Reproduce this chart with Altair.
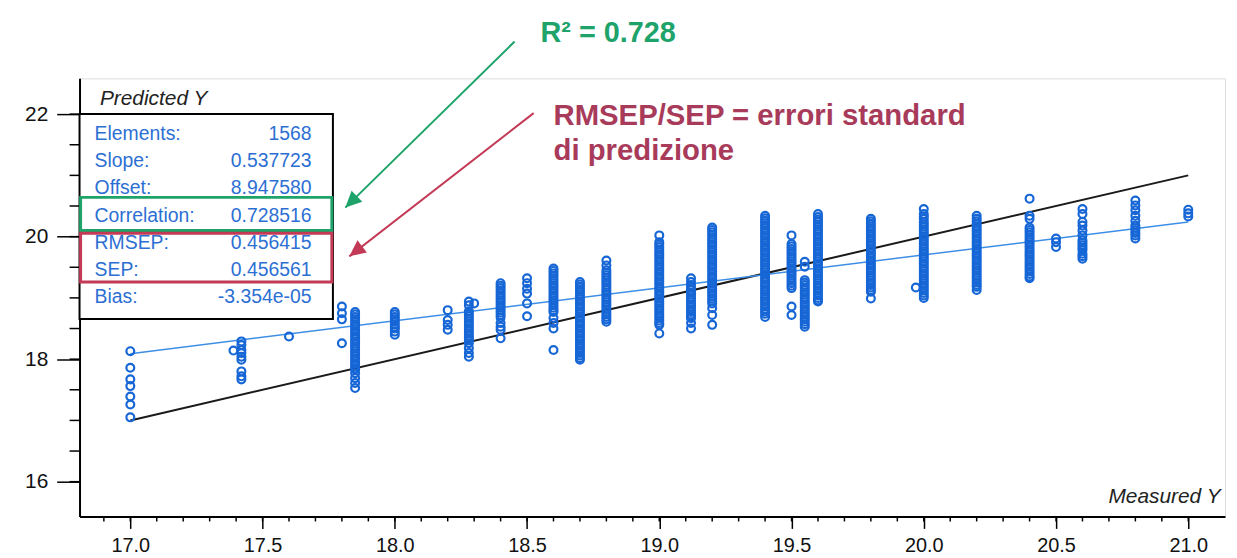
import altair as alt
import pandas as pd

# ---------------- data: predicted Y read at each measured Y level ----------------
y_1700 = [18.13, 17.86, 17.67, 17.56, 17.39, 17.26, 17.05]
y_1739 = [18.14]
y_1742 = [18.29, 18.23, 18.15, 18.10, 18.04, 17.99, 17.80, 17.72, 17.67]
y_1760 = [18.37]
y_1780 = [18.86, 18.75, 18.65, 18.26]
y_1785 = [18.77, 18.73, 18.69, 18.65, 18.61, 18.57, 18.53, 18.49, 18.45, 18.41,
          18.37, 18.33, 18.29, 18.25, 18.21, 18.17, 18.13, 18.09, 18.05, 18.01,
          17.97, 17.93, 17.89, 17.85, 17.83, 17.77, 17.69, 17.61, 17.53]
y_1800 = [18.77, 18.73, 18.69, 18.65, 18.61, 18.57, 18.53, 18.50, 18.45, 18.40]
y_1820 = [18.80, 18.64, 18.56, 18.48]
y_1828 = [18.94, 18.88, 18.78, 18.74, 18.70, 18.66, 18.62, 18.58, 18.54, 18.50,
          18.46, 18.42, 18.38, 18.34, 18.31, 18.26, 18.18, 18.10, 18.04]
y_1830 = [18.91]
y_1840 = [19.24, 19.20, 19.16, 19.12, 19.08, 19.04, 19.00, 18.96, 18.92, 18.88,
          18.84, 18.80, 18.76, 18.72, 18.68, 18.59, 18.53, 18.48, 18.34]
y_1850 = [19.32, 19.24, 19.15, 19.07, 18.91, 18.70]
y_1860 = [19.48, 19.44, 19.40, 19.36, 19.32, 19.28, 19.24, 19.20, 19.16, 19.12,
          19.08, 19.04, 19.00, 18.96, 18.92, 18.88, 18.84, 18.80, 18.77, 18.67,
          18.59, 18.50, 18.15]
y_1870 = [19.26, 19.22, 19.18, 19.14, 19.10, 19.06, 19.02, 18.98, 18.94, 18.90,
          18.86, 18.82, 18.78, 18.74, 18.70, 18.66, 18.62, 18.58, 18.54, 18.50,
          18.46, 18.42, 18.38, 18.34, 18.30, 18.26, 18.22, 18.18, 18.14, 18.10,
          18.06, 18.02, 17.99]
y_1880 = [19.61, 19.53, 19.45, 19.41, 19.37, 19.33, 19.29, 19.25, 19.21, 19.17,
          19.13, 19.09, 19.05, 19.01, 18.97, 18.93, 18.89, 18.85, 18.81, 18.77,
          18.73, 18.69, 18.65, 18.61]
y_1900 = [20.02, 19.91, 19.87, 19.83, 19.79, 19.75, 19.71, 19.67, 19.63, 19.59,
          19.55, 19.51, 19.47, 19.43, 19.39, 19.35, 19.31, 19.27, 19.23, 19.19,
          19.15, 19.11, 19.07, 19.03, 18.99, 18.95, 18.91, 18.87, 18.83, 18.79,
          18.75, 18.71, 18.67, 18.63, 18.59, 18.56, 18.42]
y_1912 = [19.32, 19.26, 19.21, 19.17, 19.13, 19.09, 19.05, 19.01, 18.97, 18.93,
          18.89, 18.85, 18.81, 18.77, 18.73, 18.69, 18.67, 18.59, 18.50]
y_1920 = [20.15, 20.11, 20.07, 20.03, 19.99, 19.95, 19.91, 19.87, 19.83, 19.79,
          19.75, 19.71, 19.67, 19.63, 19.59, 19.55, 19.51, 19.47, 19.43, 19.39,
          19.35, 19.31, 19.27, 19.23, 19.19, 19.15, 19.11, 19.07, 19.03, 18.99,
          18.95, 18.91, 18.83, 18.72, 18.56]
y_1940 = [20.34, 20.30, 20.26, 20.22, 20.18, 20.14, 20.10, 20.06, 20.02, 19.98,
          19.94, 19.90, 19.86, 19.82, 19.78, 19.74, 19.70, 19.66, 19.62, 19.58,
          19.54, 19.50, 19.46, 19.42, 19.38, 19.34, 19.30, 19.26, 19.22, 19.18,
          19.14, 19.10, 19.06, 19.02, 18.98, 18.94, 18.90, 18.86, 18.82, 18.78,
          18.74, 18.69]
y_1950 = [20.02, 19.88, 19.84, 19.80, 19.76, 19.72, 19.68, 19.64, 19.60, 19.56,
          19.52, 19.48, 19.44, 19.40, 19.36, 19.32, 19.28, 19.24, 19.20, 19.16,
          18.86, 18.72]
y_1955 = [19.59, 19.51, 19.29, 19.25, 19.21, 19.17, 19.13, 19.09, 19.05, 19.01,
          18.97, 18.93, 18.89, 18.85, 18.81, 18.77, 18.73, 18.69, 18.65, 18.61,
          18.57, 18.53]
y_1960 = [20.37, 20.32, 20.28, 20.24, 20.20, 20.16, 20.12, 20.08, 20.04, 20.00,
          19.96, 19.92, 19.88, 19.84, 19.80, 19.76, 19.72, 19.68, 19.64, 19.60,
          19.56, 19.52, 19.48, 19.44, 19.40, 19.36, 19.32, 19.28, 19.24, 19.20,
          19.16, 19.12, 19.08, 19.04, 19.00, 18.96, 18.94]
y_1980 = [20.29, 20.25, 20.21, 20.17, 20.13, 20.09, 20.05, 20.01, 19.97, 19.93,
          19.89, 19.85, 19.81, 19.77, 19.73, 19.69, 19.65, 19.61, 19.57, 19.53,
          19.49, 19.45, 19.41, 19.37, 19.33, 19.29, 19.25, 19.21, 19.17, 19.13,
          19.10, 18.99]
y_1997 = [19.17]
y_2000 = [20.45, 20.37, 20.33, 20.29, 20.24, 20.20, 20.16, 20.12, 20.08, 20.04,
          20.00, 19.96, 19.92, 19.88, 19.84, 19.80, 19.76, 19.72, 19.68, 19.64,
          19.60, 19.56, 19.52, 19.48, 19.44, 19.40, 19.36, 19.32, 19.28, 19.24,
          19.20, 19.16, 19.12, 19.08, 19.04, 19.00]
y_2020 = [20.34, 20.29, 20.25, 20.21, 20.17, 20.13, 20.09, 20.05, 20.01, 19.97,
          19.93, 19.89, 19.85, 19.81, 19.77, 19.73, 19.69, 19.65, 19.61, 19.57,
          19.53, 19.49, 19.45, 19.41, 19.37, 19.33, 19.29, 19.25, 19.21, 19.18,
          19.13]
y_2040 = [20.62, 20.34, 20.29, 20.15, 20.11, 20.07, 20.03, 19.99, 19.95, 19.91,
          19.87, 19.83, 19.79, 19.75, 19.71, 19.67, 19.63, 19.59, 19.55, 19.51,
          19.47, 19.43, 19.39, 19.35, 19.32]
y_2050 = [19.97, 19.91, 19.83]
y_2060 = [20.45, 20.37, 20.24, 20.18, 20.10, 20.02, 19.94, 19.90, 19.86, 19.82,
          19.78, 19.72, 19.68, 19.64]
y_2080 = [20.59, 20.51, 20.43, 20.34, 20.26, 20.18, 20.14, 20.10, 20.06, 20.02,
          19.97]
y_2100 = [20.44, 20.38, 20.33]

measured_levels = [17.00, 17.39, 17.42, 17.60, 17.80, 17.85, 18.00, 18.20, 18.28,
                   18.30, 18.40, 18.50, 18.60, 18.70, 18.80, 19.00, 19.12, 19.20,
                   19.40, 19.50, 19.55, 19.60, 19.80, 19.97, 20.00, 20.20, 20.40,
                   20.50, 20.60, 20.80, 21.00]
predicted_lists = [y_1700, y_1739, y_1742, y_1760, y_1780, y_1785, y_1800, y_1820,
                   y_1828, y_1830, y_1840, y_1850, y_1860, y_1870, y_1880, y_1900,
                   y_1912, y_1920, y_1940, y_1950, y_1955, y_1960, y_1980, y_1997,
                   y_2000, y_2020, y_2040, y_2050, y_2060, y_2080, y_2100]

# regression line (slope / offset from the stats box) and target line y = x
fit_x = [17.0, 21.0]
fit_y = [18.089, 20.240]
target_x = [17.0, 21.0]
target_y = [17.0, 21.0]

stat_names = ["Elements:", "Slope:", "Offset:", "Correlation:", "RMSEP:", "SEP:", "Bias:"]
stat_values = ["1568", "0.537723", "8.947580", "0.728516", "0.456415", "0.456561", "-3.354e-05"]

r2_text = "R\u00b2 = 0.728"
rmsep_lines = ["RMSEP/SEP = errori standard", "di predizione"]

# axis ticks
x_major_ticks = [17.0, 17.5, 18.0, 18.5, 19.0, 19.5, 20.0, 20.5, 21.0]
x_minor_ticks = [round(16.9 + 0.1 * i, 1) for i in range(42)]
y_major_ticks = [16, 18, 20, 22]
y_minor_ticks = [round(16.0 + 0.5 * i, 1) for i in range(13)]

# ---------------- layout constants ----------------
W, H = 1153, 441
X_DOM = [16.808, 21.139]
Y_DOM = [15.432, 22.584]
PX_X = W / (X_DOM[1] - X_DOM[0])   # pixels per x unit
PX_Y = H / (Y_DOM[1] - Y_DOM[0])   # pixels per y unit
stat_rows_y = [21.675, 21.237, 20.799, 20.344, 19.890, 19.451, 19.013]
stat_label_x = 16.865
stat_value_x = 17.685

BLUE = "#1666d6"
TXT_BLUE = "#2c6fd3"
GREEN = "#1ea36a"
RED = "#c23a55"
RED_TXT = "#a83a5a"
FONT = "Liberation Sans"

rows = []
for xv, ys in zip(measured_levels, predicted_lists):
    for yv in ys:
        rows.append({"x": xv, "y": yv})
pts = pd.DataFrame(rows)

x_axis = alt.Axis(
    values=x_major_ticks, grid=False, labelOverlap=False, labelFlush=False,
    format=".1f", tickSize=12, tickColor="black", tickWidth=1.5,
    domainColor="black", domainWidth=2,
    labelFont=FONT, labelFontSize=20, labelColor="#111", labelPadding=7,
    title="Measured Y", titleFont=FONT, titleFontStyle="italic", titleFontWeight="normal",
    titleFontSize=21, titleColor="#222", titleAlign="right", titleBaseline="middle",
    titleAnchor="end", titleX=1148, titleY=-20,
)
y_axis = alt.Axis(
    values=y_major_ticks, grid=False, labelOverlap=False, labelFlush=False,
    format="d", tickSize=23, tickColor="black", tickWidth=1.5,
    domainColor="black", domainWidth=2,
    labelFont=FONT, labelFontSize=21, labelColor="#111", labelPadding=9,
    title="Predicted Y", titleFont=FONT, titleFontStyle="italic", titleFontWeight="normal",
    titleFontSize=21, titleColor="#222", titleAngle=0, titleAlign="left",
    titleBaseline="middle", titleX=20, titleY=20,
)
xs = alt.Scale(domain=X_DOM, nice=False, zero=False)
ys_ = alt.Scale(domain=Y_DOM, nice=False, zero=False)


def X(f="x"):
    return alt.X(f"{f}:Q", scale=xs, axis=x_axis)


def Y(f="y"):
    return alt.Y(f"{f}:Q", scale=ys_, axis=y_axis)


# minor ticks drawn as short rules just outside the plot area
xmin_df = pd.DataFrame({"x": x_minor_ticks, "y": Y_DOM[0], "y2": Y_DOM[0] - 5 / PX_Y})
ymin_df = pd.DataFrame({"y": y_minor_ticks, "x": X_DOM[0], "x2": X_DOM[0] - 10 / PX_X})
xminor = alt.Chart(xmin_df).mark_rule(color="black", strokeWidth=1.5).encode(
    x=X(), y=Y(), y2="y2:Q")
yminor = alt.Chart(ymin_df).mark_rule(color="black", strokeWidth=1.5).encode(
    x=X(), x2="x2:Q", y=Y())

# stats box and highlight boxes
box_df = pd.DataFrame([{"x": X_DOM[0], "x2": 17.766, "y": 22.0, "y2": 18.656}])
green_df = pd.DataFrame([{"x": 16.812, "x2": 17.762, "y": 20.641, "y2": 20.101}])
red_df = pd.DataFrame([{"x": 16.812, "x2": 17.762, "y": 20.057, "y2": 19.261}])

box = alt.Chart(box_df).mark_rect(fill="white", stroke="black", strokeWidth=2).encode(
    x=X(), x2="x2:Q", y=Y(), y2="y2:Q")
gbox = alt.Chart(green_df).mark_rect(fillOpacity=0, stroke=GREEN, strokeWidth=3).encode(
    x=X(), x2="x2:Q", y=Y(), y2="y2:Q")
rbox = alt.Chart(red_df).mark_rect(fillOpacity=0, stroke=RED, strokeWidth=3).encode(
    x=X(), x2="x2:Q", y=Y(), y2="y2:Q")

stats_df = pd.DataFrame({"name": stat_names, "val": stat_values, "y": stat_rows_y,
                         "xl": stat_label_x, "xv": stat_value_x})
stat_lab = alt.Chart(stats_df).mark_text(align="left", baseline="middle", font=FONT,
                                         fontSize=19.5, color=TXT_BLUE).encode(
    x=X("xl"), y=Y(), text="name:N")
stat_val = alt.Chart(stats_df).mark_text(align="right", baseline="middle", font=FONT,
                                         fontSize=19.5, color=TXT_BLUE).encode(
    x=X("xv"), y=Y(), text="val:N")

# lines
target = alt.Chart(pd.DataFrame({"x": target_x, "y": target_y})).mark_line(
    color="#1a1a1a", strokeWidth=2).encode(x=X(), y=Y())
fit = alt.Chart(pd.DataFrame({"x": fit_x, "y": fit_y})).mark_line(
    color="#3d8ee6", strokeWidth=1.5).encode(x=X(), y=Y())

points = alt.Chart(pts).mark_point(shape="circle", size=62, filled=False, strokeWidth=2.2,
                                   color=BLUE, opacity=1).encode(x=X(), y=Y())

# annotations
arrow_df = pd.DataFrame([
    {"x": 18.453, "y": 23.185, "x2": 17.813, "y2": 20.474, "c": GREEN, "ang": 225.5},
    {"x": 18.525, "y": 22.016, "x2": 17.828, "y2": 19.678, "c": RED, "ang": 232.1},
])
arrow_lines = alt.Chart(arrow_df).mark_rule(strokeWidth=2).encode(
    x=X(), y=Y(), x2="x2:Q", y2="y2:Q", color=alt.Color("c:N", scale=None))
arrow_heads = alt.Chart(arrow_df).mark_point(
    shape="M0,0L-0.75,1.6L0.75,1.6Z", filled=True, size=420, opacity=1).encode(
    x=X("x2"), y=Y("y2"), color=alt.Color("c:N", scale=None), angle=alt.Angle("ang:Q", scale=None))

r2 = alt.Chart(pd.DataFrame({"x": [18.551], "y": [23.331], "t": [r2_text]})).mark_text(
    align="left", baseline="middle", font=FONT, fontSize=29, fontWeight="bold", color=GREEN
).encode(x=X(), y=Y(), text="t:N")
rm = alt.Chart(pd.DataFrame({"x": [18.600, 18.600], "y": [21.968, 21.399], "t": rmsep_lines})).mark_text(
    align="left", baseline="middle", font=FONT, fontSize=29.5, fontWeight="bold", color=RED_TXT
).encode(x=X(), y=Y(), text="t:N")

chart = alt.layer(
    xminor, yminor, box, target, fit, points, gbox, rbox, stat_lab, stat_val,
    arrow_lines, arrow_heads, r2, rm,
).properties(
    width=W, height=H,
    autosize=alt.AutoSizeParams(type="none"),
    padding={"left": 72, "top": 69, "right": 4, "bottom": 40},
    background="white",
).configure_view(stroke=None).configure(font=FONT)

chart.save("out.html", embed_options={"renderer": "svg", "actions": False})
